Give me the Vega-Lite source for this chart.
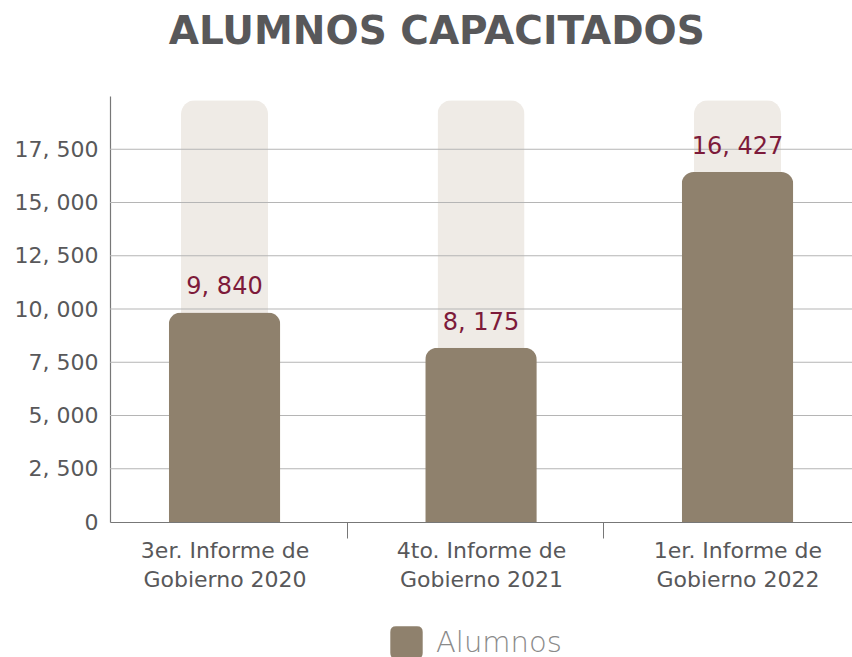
{
  "$schema": "https://vega.github.io/schema/vega-lite/v6.json",
  "width": 742,
  "height": 426,
  "autosize": {"type": "none"},
  "padding": {"left": 110, "top": 96, "right": 0, "bottom": 135},
  "config": {
    "locale": {"number": {"decimal": ".", "thousands": ", ", "grouping": [3], "currency": ["$", ""]}},
    "view": {"stroke": null},
    "font": "DejaVu Sans"
  },
  "title": {
    "text": "ALUMNOS CAPACITADOS",
    "fontSize": 39,
    "fontWeight": "bold",
    "color": "#58585a",
    "frame": "bounds",
    "anchor": "middle",
    "offset": 44
  },
  "data": {
    "values": [
      {"informe": "3er. Informe de Gobierno 2020", "alumnos": 9840, "fondo": 19800, "serie": "Alumnos"},
      {"informe": "4to. Informe de Gobierno 2021", "alumnos": 8175, "fondo": 19800, "serie": "Alumnos"},
      {"informe": "1er. Informe de Gobierno 2022", "alumnos": 16427, "fondo": 19800, "serie": "Alumnos"}
    ]
  },
  "layer": [
    {
      "mark": {"type": "bar", "color": "#efebe6", "cornerRadiusTopLeft": 14, "cornerRadiusTopRight": 14, "width": {"band": 0.78}},
      "encoding": {
        "x": {
          "field": "informe", "type": "nominal", "sort": null,
          "scale": {"paddingInner": 0.565, "paddingOuter": 0.229},
          "axis": {
            "title": null, "labelAngle": 0, "domainColor": "#777777", "domainWidth": 1.2,
            "ticks": true, "tickSize": 16, "tickColor": "#777777", "tickOffset": 122,
            "labelOffset": -122,
            "labelFontSize": 22, "labelColor": "#58585a", "labelLineHeight": 29,
            "labelPadding": 2, "labelLimit": 300,
            "labelExpr": "[slice(datum.label, 0, 15), slice(datum.label, 16)]"
          }
        },
        "y": {
          "field": "fondo", "type": "quantitative",
          "scale": {"domain": [0, 20000]},
          "axis": {
            "title": null, "grid": false, "ticks": false,
            "values": [0, 2500, 5000, 7500, 10000, 12500, 15000, 17500],
            "format": ",d", "domainColor": "#777777", "domainWidth": 1.2,
            "labelFontSize": 22, "labelColor": "#58585a", "labelPadding": 12
          }
        }
      }
    },
    {
      "data": {"values": [{"v": 2500}, {"v": 5000}, {"v": 7500}, {"v": 10000}, {"v": 12500}, {"v": 15000}, {"v": 17500}]},
      "mark": {"type": "rule", "color": "#b5b5b5", "strokeWidth": 1},
      "encoding": {"y": {"field": "v", "type": "quantitative"}}
    },
    {
      "mark": {"type": "bar", "cornerRadiusTopLeft": 12, "cornerRadiusTopRight": 12},
      "encoding": {
        "x": {"field": "informe", "type": "nominal", "sort": null},
        "y": {"field": "alumnos", "type": "quantitative"},
        "color": {
          "field": "serie", "type": "nominal",
          "scale": {"range": ["#8f816d"]},
          "legend": {
            "title": null, "orient": "none", "legendX": 280, "legendY": 530, "direction": "horizontal",
            "symbolType": "M -0.65 -1 L 0.65 -1 Q 1 -1 1 -0.65 L 1 0.65 Q 1 1 0.65 1 L -0.65 1 Q -1 1 -1 0.65 L -1 -0.65 Q -1 -1 -0.65 -1 Z",
            "symbolSize": 1050, "symbolStrokeWidth": 0, "symbolOpacity": 1,
            "labelFontSize": 29, "labelColor": "#8a8a8a", "labelFontWeight": 300,
            "labelOffset": 13
          }
        }
      }
    },
    {
      "mark": {"type": "text", "dy": -25, "fontSize": 24, "color": "#7d1a3a"},
      "encoding": {
        "x": {"field": "informe", "type": "nominal", "sort": null},
        "y": {"field": "alumnos", "type": "quantitative"},
        "text": {"field": "alumnos", "type": "quantitative", "format": ",d"}
      }
    }
  ]
}
